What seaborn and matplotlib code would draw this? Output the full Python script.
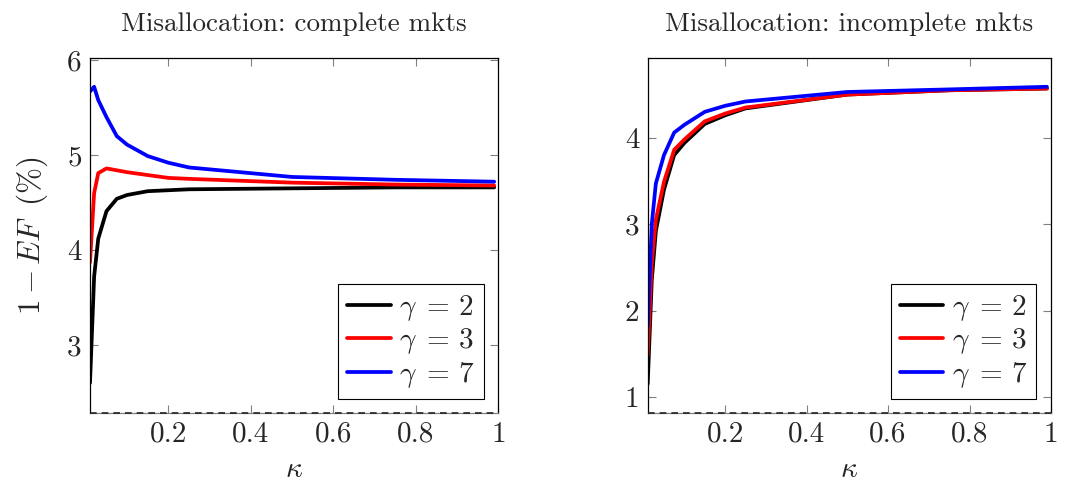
import numpy as np
import pandas as pd
import matplotlib
matplotlib.use("Agg")
import matplotlib.pyplot as plt
import seaborn as sns

kappa = [0.01, 0.02, 0.03, 0.05, 0.075, 0.1, 0.15, 0.2, 0.25, 0.5, 0.75, 0.99]

complete_g2 = [2.60, 3.72, 4.12, 4.41, 4.54, 4.58, 4.62, 4.63, 4.64, 4.65, 4.66, 4.66]
complete_g3 = [3.87, 4.60, 4.81, 4.86, 4.84, 4.82, 4.79, 4.76, 4.75, 4.71, 4.69, 4.68]
complete_g7 = [5.67, 5.72, 5.58, 5.40, 5.20, 5.11, 4.99, 4.92, 4.87, 4.77, 4.74, 4.72]

incomplete_g2 = [1.15, 2.35, 2.92, 3.40, 3.80, 3.94, 4.16, 4.26, 4.34, 4.50, 4.55, 4.57]
incomplete_g3 = [1.48, 2.55, 3.05, 3.49, 3.86, 3.98, 4.19, 4.28, 4.35, 4.50, 4.55, 4.57]
incomplete_g7 = [1.82, 3.00, 3.47, 3.80, 4.06, 4.15, 4.30, 4.37, 4.42, 4.53, 4.56, 4.59]

gamma_labels = [r"$\gamma\;=\,2$", r"$\gamma\;=\,3$", r"$\gamma\;=\,7$"]
colors = ["black", "red", "blue"]

titles = ["Misallocation: complete mkts", "Misallocation: incomplete mkts"]
xticks = [0.2, 0.4, 0.6, 0.8, 1.0]
xtick_labels = ["0.2", "0.4", "0.6", "0.8", "1"]
left_yticks = [3, 4, 5, 6]
right_yticks = [1, 2, 3, 4]

sns.set_style("ticks")
plt.rcParams["font.family"] = ["cmr10", "DejaVu Serif"]
plt.rcParams["mathtext.fontset"] = "cm"
plt.rcParams["axes.formatter.use_mathtext"] = True
plt.rcParams["axes.unicode_minus"] = False

def make_df(series):
    rows = []
    for lab, vals in zip(gamma_labels, series):
        for k, v in zip(kappa, vals):
            rows.append({"kappa": k, "value": v, "gamma": lab})
    return pd.DataFrame(rows)

df_left = make_df([complete_g2, complete_g3, complete_g7])
df_right = make_df([incomplete_g2, incomplete_g3, incomplete_g7])

fig = plt.figure(figsize=(10.70, 4.87), dpi=100)
ax1 = fig.add_axes([90 / 1070, 1 - 413.3 / 487, 408.3 / 1070, 355 / 487])
ax2 = fig.add_axes([647.7 / 1070, 1 - 413.3 / 487, 403.3 / 1070, 355 / 487])

panels = [
    (ax1, df_left, (2.28, 6.02), left_yticks, titles[0]),
    (ax2, df_right, (0.81, 4.92), right_yticks, titles[1]),
]

for ax, df, ylim, yticks, title in panels:
    sns.lineplot(data=df, x="kappa", y="value", hue="gamma", palette=colors,
                 hue_order=gamma_labels, linewidth=2.7, ax=ax, legend=True,
                 errorbar=None)
    ax.set_xlim(0.01, 1.0)
    ax.set_ylim(*ylim)
    ax.set_xticks(xticks, labels=xtick_labels)
    ax.set_yticks(yticks, labels=[str(t) for t in yticks])
    ax.tick_params(direction="in", length=6, width=0.8, color="#808080",
                   top=True, right=True, labelsize=21, pad=6)
    for sp in ax.spines.values():
        sp.set_visible(True)
        sp.set_linewidth(0.9)
        sp.set_color("black")
    ax.spines["bottom"].set_color("#808080")
    ax.axhline(ylim[0], color="#222222", linestyle=(0, (4, 3)), linewidth=1.2,
               clip_on=False, zorder=5)
    ax.set_xlabel(r"$\kappa$", fontsize=21, labelpad=6)
    ax.set_ylabel("")
    ax.set_title(title, fontsize=19.5, pad=20)
    leg = ax.legend(loc="lower right", fontsize=21, frameon=True, fancybox=False,
                    framealpha=1, edgecolor="black", handlelength=1.5,
                    handletextpad=0.3, borderpad=0.3, labelspacing=0.12,
                    borderaxespad=0.5)
    leg.get_frame().set_linewidth(0.8)
    for line in leg.get_lines():
        line.set_linewidth(2.7)

ax1.set_ylabel(r"$1 - EF\;\;(\%)$", fontsize=22.5, labelpad=12)

fig.savefig("out.png", dpi=100)
